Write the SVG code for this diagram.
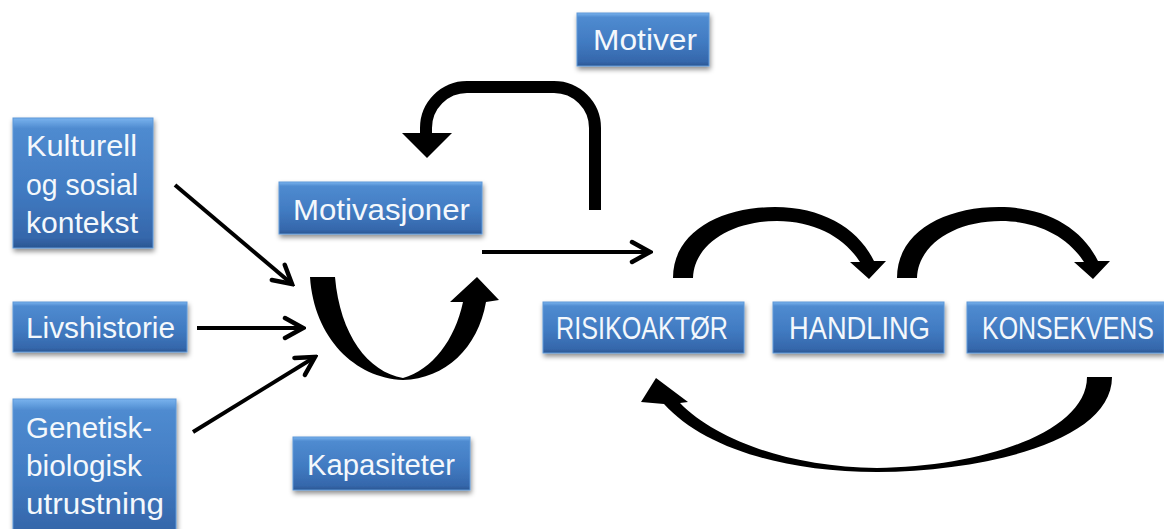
<svg xmlns="http://www.w3.org/2000/svg" width="1164" height="529" viewBox="0 0 1164 529">
<defs>
<linearGradient id="bg" x1="0" y1="0" x2="0" y2="1">
<stop offset="0" stop-color="#79b3ee"/>
<stop offset="0.08" stop-color="#4f8bd0"/>
<stop offset="0.55" stop-color="#417bc2"/>
<stop offset="0.92" stop-color="#3567ab"/>
<stop offset="1" stop-color="#2a5691"/>
</linearGradient>
<filter id="sh" x="-10%" y="-10%" width="130%" height="140%">
<feDropShadow dx="1" dy="3" stdDeviation="2.5" flood-color="#000" flood-opacity="0.45"/>
</filter>
<filter id="soft" x="-5%" y="-5%" width="110%" height="110%">
<feGaussianBlur stdDeviation="0.6"/>
</filter>
<marker id="chev" viewBox="0 0 26 26" refX="23" refY="13" markerWidth="26" markerHeight="26" markerUnits="userSpaceOnUse" orient="auto">
<path d="M5,3 L23,13 L5,23" fill="none" stroke="#000" stroke-width="4.5" stroke-linecap="round" stroke-linejoin="miter"/>
</marker>
</defs>
<style>
.box{fill:url(#bg);stroke:#5f98d8;stroke-width:1;filter:url(#sh)}
.t{font-family:"Liberation Sans",Arial,sans-serif;font-size:29px;fill:#f4f8fc}
.u{font-size:31px}
.ln{fill:none;stroke:#000;stroke-width:4;marker-end:url(#chev)}
.fat{fill:#000;filter:url(#soft)}
</style>
<rect width="1164" height="529" fill="#fff"/>

<g id="connectors">
<line class="ln" x1="175" y1="185" x2="292" y2="284"/>
<line class="ln" x1="197" y1="328" x2="303" y2="328"/>
<line class="ln" x1="193" y1="432" x2="315" y2="357"/>
<line class="ln" x1="482" y1="252" x2="650" y2="252"/>
<path class="fat" d="M310,277 L335,277 C340,335 368,372 403,378 C432,370 455,340 463,302 L450,302 L477,277 L499,300 L486,302 C478,348 445,379 403,380 C355,378 314,338 310,277 Z"/>
<path d="M595,210 L595,128 A41,41 0 0 0 554,87 L467,87 A41,41 0 0 0 426,128 L426,136" fill="none" stroke="#000" stroke-width="12"/>
<path class="fat" d="M402,133 L452,133 L427,158 Z"/>
<path class="fat" d="M673,278 C673,232 720,207 775,207 C822,207 858,228 874,261 L886,261 L869,279 L850,262 L860,262 C845,238 815,221 777,221 C730,221 694,245 693,278 Z"/>
<path class="fat" transform="translate(224,0)" d="M673,278 C673,232 720,207 775,207 C822,207 858,228 874,261 L886,261 L869,279 L850,262 L860,262 C845,238 815,221 777,221 C730,221 694,245 693,278 Z"/>
<path class="fat" d="M1087,377 L1112,377 C1112,440 990,471 877,472 C780,472 702,446 664,404 L641,402 L656,378 L688,402 L680,403 C716,440 790,467 877,468 C980,467 1087,433 1087,377 Z"/>
</g>

<g id="motiver">
<rect class="box" x="577" y="13" width="132" height="53"/>
<text class="t" x="593" y="50" textLength="104" lengthAdjust="spacingAndGlyphs">Motiver</text>
</g>
<g id="kulturell">
<rect class="box" x="13" y="118" width="140" height="130"/>
<text class="t" x="26" y="156" textLength="111" lengthAdjust="spacingAndGlyphs">Kulturell</text>
<text class="t" x="26" y="195" textLength="112" lengthAdjust="spacingAndGlyphs">og sosial</text>
<text class="t" x="26" y="233" textLength="112" lengthAdjust="spacingAndGlyphs">kontekst</text>
</g>
<g id="motivasjoner">
<rect class="box" x="279" y="182" width="203" height="52"/>
<text class="t" x="293" y="220" textLength="177" lengthAdjust="spacingAndGlyphs">Motivasjoner</text>
</g>
<g id="livshistorie">
<rect class="box" x="13" y="302" width="174" height="50"/>
<text class="t" x="26" y="338" textLength="149" lengthAdjust="spacingAndGlyphs">Livshistorie</text>
</g>
<g id="genetisk">
<rect class="box" x="13" y="399" width="163" height="140"/>
<text class="t" x="26" y="438" textLength="126" lengthAdjust="spacingAndGlyphs">Genetisk-</text>
<text class="t" x="26" y="476" textLength="116" lengthAdjust="spacingAndGlyphs">biologisk</text>
<text class="t" x="26" y="514" textLength="138" lengthAdjust="spacingAndGlyphs">utrustning</text>
</g>
<g id="kapasiteter">
<rect class="box" x="293" y="437" width="177" height="53"/>
<text class="t" x="307" y="475" textLength="148" lengthAdjust="spacingAndGlyphs">Kapasiteter</text>
</g>
<g id="risikoaktor">
<rect class="box" x="543" y="302" width="201" height="51"/>
<text class="t u" x="556" y="339" textLength="172" lengthAdjust="spacingAndGlyphs">RISIKOAKTØR</text>
</g>
<g id="handling">
<rect class="box" x="773" y="302" width="171" height="51"/>
<text class="t u" x="789" y="339" textLength="141" lengthAdjust="spacingAndGlyphs">HANDLING</text>
</g>
<g id="konsekvens">
<rect class="box" x="967" y="302" width="197" height="51"/>
<text class="t u" x="982" y="339" textLength="172" lengthAdjust="spacingAndGlyphs">KONSEKVENS</text>
</g>
</svg>
